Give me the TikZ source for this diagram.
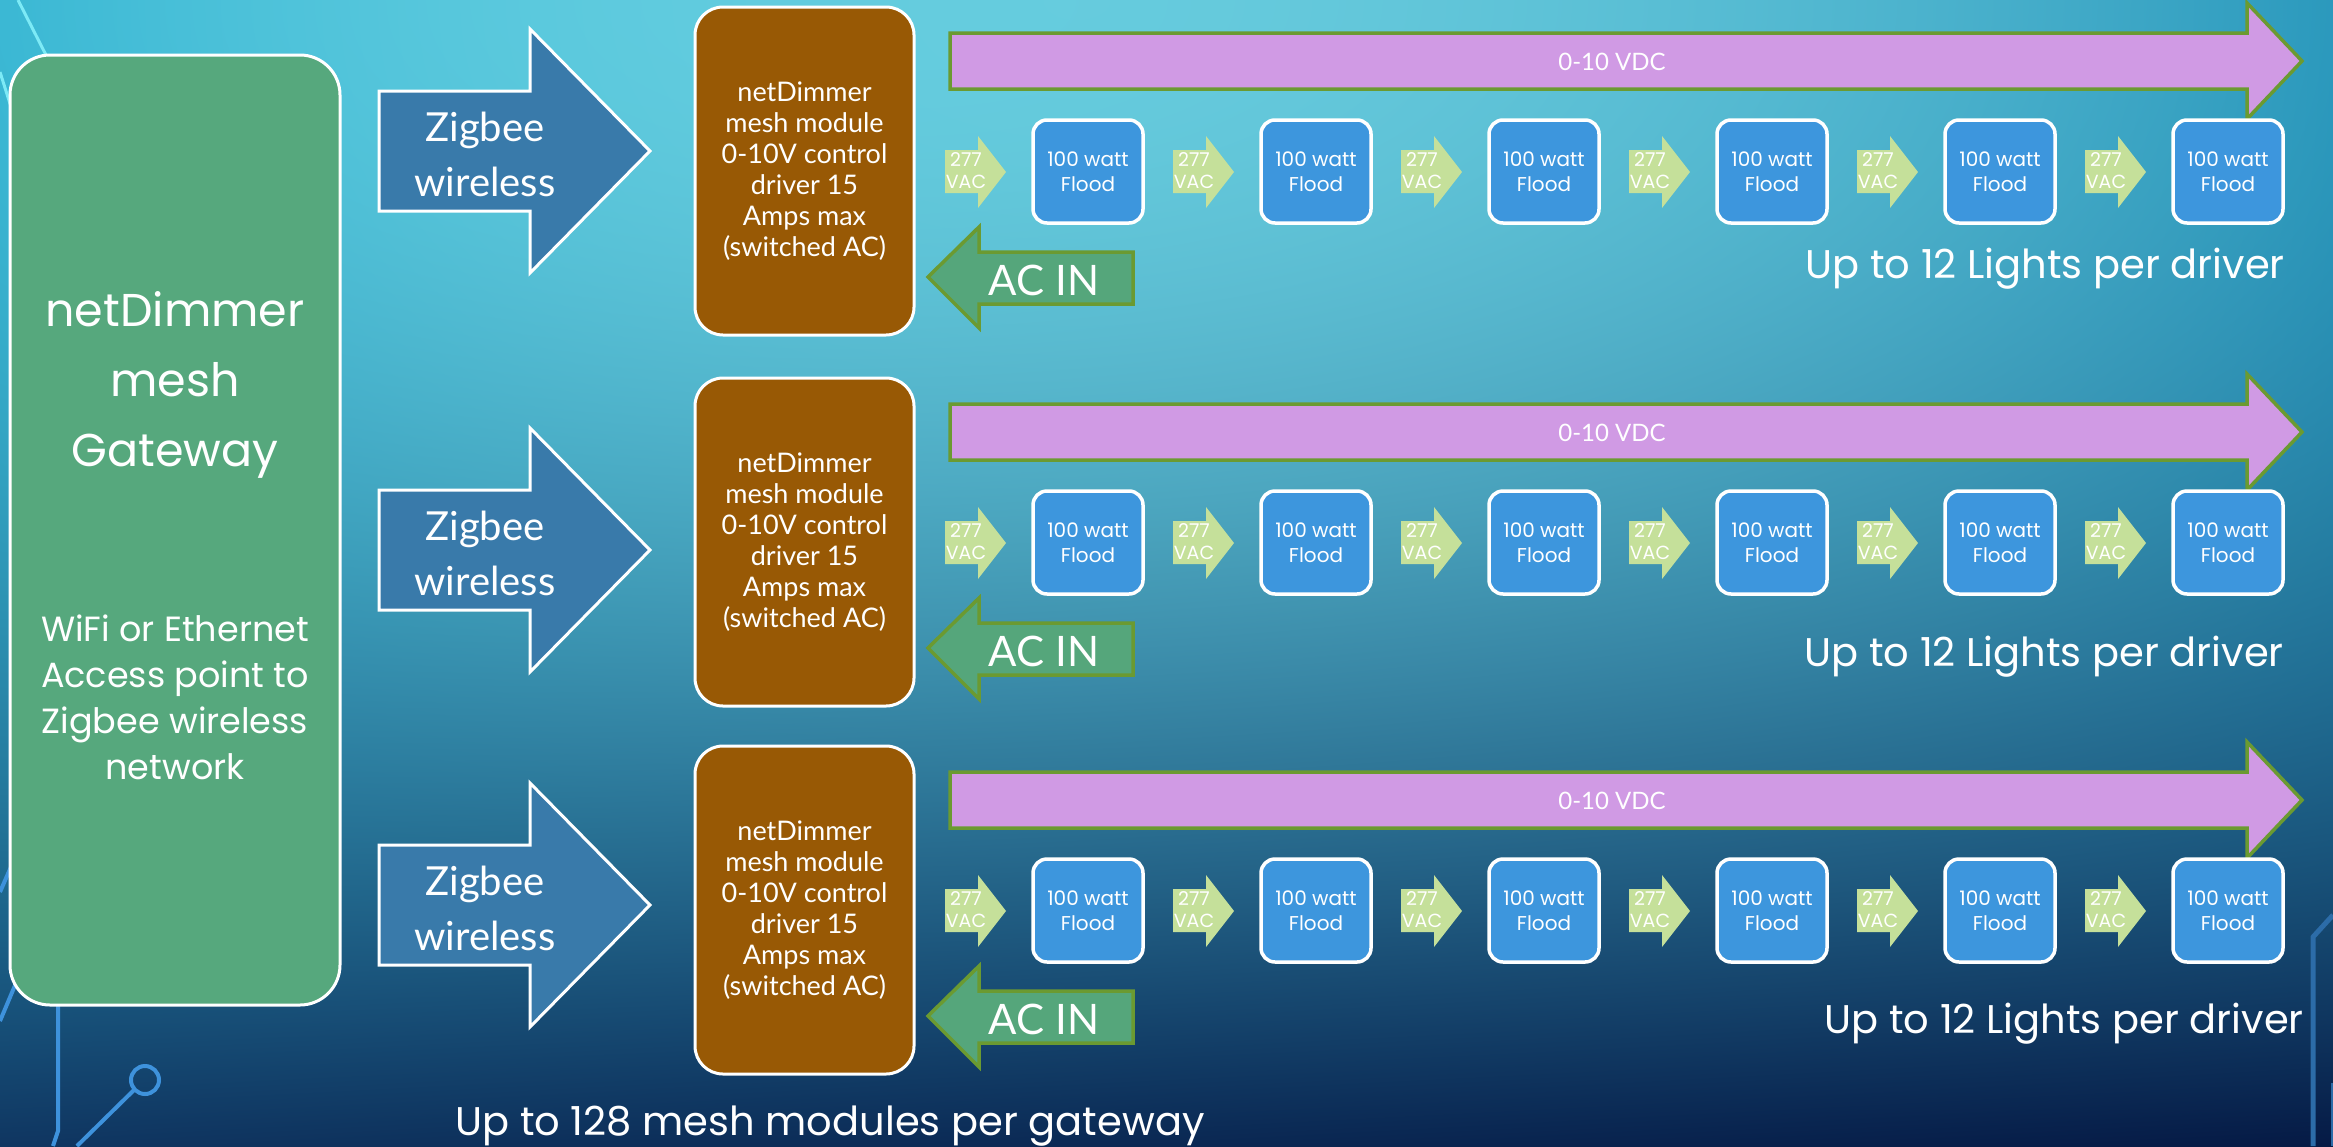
\documentclass[tikz,border=0pt]{standalone}
\usepackage{fontspec}
\setmainfont{Lato}
\newfontfamily\popf{Poppins}
\newfontfamily\latf{Lato}
\definecolor{gwgreen}{RGB}{86,168,125}
\definecolor{zigblue}{RGB}{57,122,170}
\definecolor{modbrown}{RGB}{152,89,5}
\definecolor{purp}{RGB}{208,154,228}
\definecolor{oliveline}{RGB}{107,154,49}
\definecolor{vacgreen}{RGB}{197,224,154}
\definecolor{floodblue}{RGB}{61,150,221}
\definecolor{acgreen}{RGB}{85,166,123}
\definecolor{decocyan}{RGB}{125,234,246}
\definecolor{decoblue}{RGB}{62,146,220}
\definecolor{decoright}{RGB}{44,108,168}
\pgfdeclarefunctionalshading{bgfun}{\pgfpointorigin}{\pgfpoint{100bp}{100bp}}{}{
25 sub 50 div exch 25 sub 50 div exch
1 exch sub dup mul 1 exch sub
1 index 0.45 sub 2 mul dup mul 1 exch sub
1 index dup mul mul
2 index 2 index mul exch
3 index -0.04 mul 3 index 0.133 mul add 2 index 0.058 mul add 1 index 0.197 mul add 0.06 add
4 index -0.11 mul 4 index 0.485 mul add 3 index 0.043 mul add 2 index 0.134 mul add 0.21 add
5 index -0.11 mul 5 index 0.435 mul add 4 index 0.052 mul add 3 index 0.0805 mul add 0.38 add
7 3 roll pop pop pop pop
}
\begin{document}
\begin{tikzpicture}[x=1pt,y=-1pt,
  txt/.style={text=white, inner sep=0pt, align=center},
  gwbox/.style={draw=white, line width=3pt, fill=gwgreen, rounded corners=40pt, minimum width=330pt, minimum height=950pt},
  zigarrow/.style={draw=white, line width=3pt, fill=zigblue},
  modbox/.style={draw=white, line width=3pt, fill=modbrown, rounded corners=28pt, minimum width=219pt, minimum height=328pt, text=white, align=center, inner sep=0pt, font=\latf\fontsize{27}{31}\selectfont},
  vdcarrow/.style={draw=oliveline, line width=3.5pt, fill=purp},
  vacarrow/.style={fill=vacgreen},
  floodbox/.style={draw=white, line width=3.5pt, fill=floodblue, rounded corners=14pt, minimum width=110pt, minimum height=103pt, text=white, align=center, inner sep=0pt, font=\popf\fontsize{20}{25}\selectfont},
  acarrow/.style={draw=oliveline, line width=3.5pt, fill=acgreen},
  zigfont/.style={font=\latf\fontsize{40}{55}\selectfont},
  vacfont/.style={font=\popf\fontsize{19}{22}\selectfont},
  vdcfont/.style={font=\latf\fontsize{24}{28}\selectfont},
  acfont/.style={font=\latf\fontsize{42}{46}\selectfont},
  capfont/.style={font=\popf\fontsize{40}{46}\selectfont},
  decoA/.style={draw=decocyan, line width=3pt},
  decoB/.style={draw=decoblue, line width=4pt},
  decoC/.style={draw=decoright, line width=5pt}
]
\useasboundingbox (0,0) rectangle (2333,1146);
\shade[shading=bgfun] (0,0) rectangle (2333,1146);
% decorative background lines
\path[decoA] (18,0) -- (47,57);
\path[decoA] (0,72) -- (12,110);
\path[decoB] (0,892) -- (14,860);
\path[decoB] (0,1021) -- (16,983);
\path[decoB] (58,1000) -- (58,1131) -- (53,1146);
\path[decoB] (134,1090) -- (77,1146);
\path[decoB] (145,1080) circle (14);
\path[decoC] (2333,915) -- (2313,937) -- (2313,1146);
\path[decoC] (2333,1083) -- (2333,1146);
% gateway
\node[gwbox] (gw) at (175,530) {};
\node[txt, font=\popf\fontsize{46}{70}\selectfont] (gwtitle) at (175,385) {netDimmer\\mesh\\Gateway};
\node[txt, font=\popf\fontsize{35}{46}\selectfont] (gwsub) at (175,697) {WiFi or Ethernet\\Access point to\\Zigbee wireless\\network};
% rows
\foreach \r/\dy/\zy/\capx/\capy in {1/0/151/2285/278, 2/371/550/2284/666, 3/739/905/2304/1033}{
  \filldraw[zigarrow] (379,\zy-60) -- (530,\zy-60) -- (530,\zy-122) -- (650,\zy) -- (530,\zy+122) -- (530,\zy+60) -- (379,\zy+60) -- cycle;
  \node[txt, zigfont] (zig\r) at (485,\zy+3) {Zigbee\\wireless};
  \node[modbox] (mod\r) at (804.5,171+\dy) {netDimmer\\mesh module\\0-10V control\\driver 15\\Amps max\\(switched AC)};
  \filldraw[vdcarrow] (950,33+\dy) -- (2247,33+\dy) -- (2247,3+\dy) -- (2302,61+\dy) -- (2247,119+\dy) -- (2247,89+\dy) -- (950,89+\dy) -- cycle;
  \node[txt, vdcfont] (vdc\r) at (1612,62+\dy) {0-10 VDC};
  \foreach \i in {0,...,5}{
    \fill[vacarrow] (945+228*\i,150+\dy) -- ++(33,0) -- ++(0,-14) -- ++(28,36) -- ++(-28,36) -- ++(0,-15) -- ++(-33,0) -- cycle;
    \node[txt, vacfont] (vac\r\i) at (966+228*\i,171+\dy) {277\\VAC};
    \node[floodbox] (fl\r\i) at (1088+228*\i,171.5+\dy) {100 watt\\Flood};
  }
  \filldraw[acarrow] (928,277+\dy) -- (979,227+\dy) -- (979,252+\dy) -- (1133,252+\dy) -- (1133,304+\dy) -- (979,304+\dy) -- (979,328+\dy) -- cycle;
  \node[txt, acfont] (ac\r) at (1044,280+\dy) {AC IN};
  \node[txt, capfont, anchor=base east] (cap\r) at (\capx,\capy) {Up to 12 Lights per driver};
}
\node[txt, capfont, anchor=base] (bottomcap) at (830,1135) {Up to 128 mesh modules per gateway};
\end{tikzpicture}
\end{document}
